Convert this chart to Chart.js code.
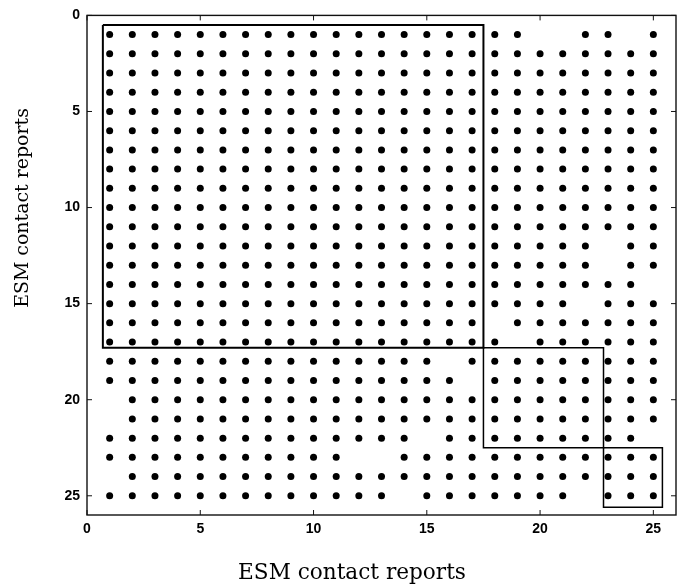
<!DOCTYPE html>
<html>
<head>
<meta charset="utf-8">
<script src="https://cdn.jsdelivr.net/npm/chart.js@4"></script>
<style>
  html, body { margin: 0; padding: 0; background: #fff; }
  #wrap { width: 685px; height: 585px; }
</style>
</head>
<body>
<div id="wrap"><canvas id="matrixChart" width="685" height="585"></canvas></div>
<script>
// ESM contact reports, 1..25 on both axes
const reports = [1, 2, 3, 4, 5, 6, 7, 8, 9, 10, 11, 12, 13, 14, 15, 16, 17, 18, 19, 20, 21, 22, 23, 24, 25];
const tickValues = [0, 5, 10, 15, 20, 25];
const axisTitle = 'ESM contact reports';

// cells with no dot, as [row, column]
const absentCells = [
    [1, 20], [1, 21], [1, 24],
    [12, 23], [13, 23], [14, 25], [15, 22], [16, 18], [17, 19],
    [18, 16], [19, 17], [20, 1], [21, 1],
    [22, 15], [22, 25], [23, 12], [23, 13], [24, 1],
    [25, 14], [25, 22]
];

// cluster boxes: x extents and y extents
const clusterX = [[0.7, 17.5], [17.5, 22.8], [22.8, 25.4]];
const clusterY = [[0.5, 17.3], [17.3, 22.5], [22.5, 25.6]];
const clusterWidth = [2, 1.5, 1.5];

// build the points
const dots = [];
reports.forEach((row) => {
    reports.forEach((col) => {
        const gone = absentCells.some((c) => c[0] === row && c[1] === col);
        if (!gone) dots.push({ x: col, y: row });
    });
});

const boxSets = clusterX.map((xr, i) => {
    const yr = clusterY[i];
    return {
        type: 'line',
        data: [
            { x: xr[0], y: yr[0] }, { x: xr[1], y: yr[0] },
            { x: xr[1], y: yr[1] }, { x: xr[0], y: yr[1] },
            { x: xr[0], y: yr[0] }
        ],
        borderColor: '#000',
        borderWidth: clusterWidth[i],
        pointRadius: 0,
        fill: false,
        tension: 0
    };
});

// frame, inward tick marks and the two axis titles
const framePlugin = {
    id: 'frame',
    afterDatasetsDraw(chart) {
        const { ctx, chartArea: a, scales } = chart;
        ctx.save();
        ctx.strokeStyle = '#111';
        ctx.lineWidth = 1.4;
        ctx.strokeRect(a.left, a.top, a.right - a.left, a.bottom - a.top);
        ctx.lineWidth = 1;
        tickValues.forEach((v) => {
            const px = scales.x.getPixelForValue(v);
            const py = scales.y.getPixelForValue(v);
            ctx.beginPath();
            ctx.moveTo(px, a.bottom); ctx.lineTo(px, a.bottom - 5);
            ctx.moveTo(px, a.top); ctx.lineTo(px, a.top + 5);
            ctx.moveTo(a.left, py); ctx.lineTo(a.left + 5, py);
            ctx.moveTo(a.right, py); ctx.lineTo(a.right - 5, py);
            ctx.stroke();
        });

        // titles: sized to the widths seen in the scan
        ctx.fillStyle = '#000';
        ctx.textAlign = 'center';
        ctx.textBaseline = 'alphabetic';
        ctx.font = '20px "DejaVu Serif"';
        const w20 = ctx.measureText(axisTitle).width;
        ctx.font = (20 * 228 / w20).toFixed(2) + 'px "DejaVu Serif"';
        ctx.fillText(axisTitle, 352, 579);

        ctx.font = (20 * 200 / w20).toFixed(2) + 'px "DejaVu Serif"';
        ctx.translate(28, 208);
        ctx.rotate(-Math.PI / 2);
        ctx.fillText(axisTitle, 0, 0);
        ctx.restore();
    }
};

const tickFont = { family: 'Liberation Sans', size: 14, weight: 'bold' };

new Chart(document.getElementById('matrixChart').getContext('2d'), {
    type: 'scatter',
    data: {
        datasets: [{
            data: dots,
            backgroundColor: '#000',
            borderWidth: 0,
            pointRadius: 3.5,
            pointHoverRadius: 3.5
        }].concat(boxSets)
    },
    options: {
        responsive: false,
        animation: false,
        layout: { padding: { top: 12, right: 9, left: 0, bottom: 0 } },
        plugins: { legend: { display: false }, tooltip: { enabled: false } },
        scales: {
            x: {
                type: 'linear',
                min: 0,
                max: 26,
                afterBuildTicks: (s) => { s.ticks = tickValues.map((v) => ({ value: v })); },
                afterFit: (s) => { s.height = 70; },
                grid: { display: false, drawTicks: false },
                border: { display: false },
                ticks: { color: '#000', font: tickFont, padding: 6, maxRotation: 0 }
            },
            y: {
                type: 'linear',
                reverse: true,
                min: 0,
                max: 26,
                afterBuildTicks: (s) => { s.ticks = tickValues.map((v) => ({ value: v })); },
                afterFit: (s) => { s.width = 87; },
                grid: { display: false, drawTicks: false },
                border: { display: false },
                ticks: { color: '#000', font: tickFont, padding: 7 }
            }
        }
    },
    plugins: [framePlugin]
});
</script>
</body>
</html>
